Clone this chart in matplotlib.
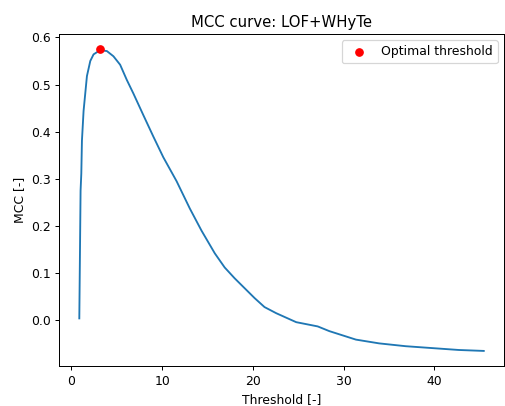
import matplotlib
matplotlib.use("Agg")
import matplotlib.pyplot as plt

# MCC values
thresholds = [0.88, 1.02, 1.10, 1.17, 1.35, 1.54, 1.72, 2.09, 2.45, 3.18, 3.92,
              4.64, 5.38, 6.11, 6.84, 7.94, 9.03, 10.13, 11.60, 13.06, 14.35,
              15.81, 16.90, 18.00, 19.10, 20.20, 21.29, 22.58, 24.78, 27.15,
              28.43, 31.36, 33.92, 36.85, 39.77, 42.70, 45.45]
mcc = [0.004, 0.275, 0.311, 0.381, 0.444, 0.482, 0.518, 0.550, 0.564, 0.573,
       0.571, 0.560, 0.542, 0.510, 0.481, 0.435, 0.390, 0.346, 0.295, 0.237,
       0.190, 0.142, 0.112, 0.089, 0.068, 0.047, 0.028, 0.015, -0.004, -0.013,
       -0.023, -0.041, -0.049, -0.055, -0.059, -0.063, -0.065]

opt_threshold = 3.18
opt_mcc = 0.575

dpi = 89
fig, ax = plt.subplots(figsize=(505 / dpi, 406 / dpi), dpi=dpi)
fig.subplots_adjust(left=0.117, right=0.998, top=0.916, bottom=0.0985)

ax.plot(thresholds, mcc, color='tab:blue')
ax.scatter([opt_threshold], [opt_mcc], color='red', label='Optimal threshold', zorder=3)

ax.set_title("MCC curve: LOF+WHyTe")
ax.set_xlabel("Threshold [-]")
ax.set_ylabel("MCC [-]")
ax.legend(loc='upper right')

fig.savefig("out.png", dpi=dpi)
